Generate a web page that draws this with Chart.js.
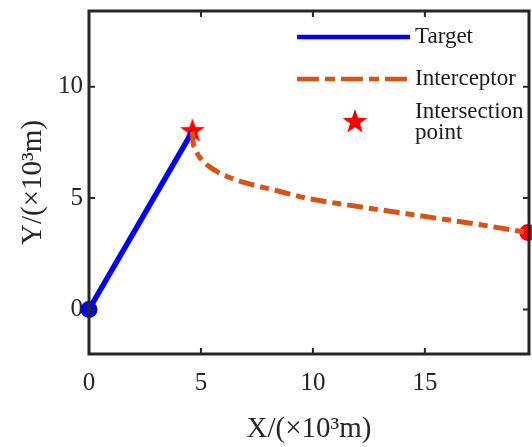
<!DOCTYPE html>
<html>
<head>
<meta charset="utf-8">
<script src="https://cdn.jsdelivr.net/npm/chart.js@4.4.1/dist/chart.umd.min.js"></script>
<style>
  body { margin: 0; background: #fff; }
  canvas { display: block; }
</style>
</head>
<body>
<canvas id="grafico" width="532" height="447"></canvas>
<script>
// dados (x10^3 m)
const targetX = [0, 4.62];
const targetY = [0, 8.0];
const interceptorX = [4.62, 4.64, 4.72, 4.9, 5.2, 5.7, 6.4, 7.3, 8.4, 9.8, 11.5, 13.5, 15.5, 17.5, 19.6];
const interceptorY = [8.0, 7.6, 7.25, 6.9, 6.55, 6.2, 5.88, 5.6, 5.33, 4.98, 4.7, 4.4, 4.1, 3.8, 3.45];
const startPoint = [0, 0];
const endPoint = [19.6, 3.45];
const hitPoint = [4.62, 8.05];
const xTicks = [0, 5, 10, 15];
const yTicks = [0, 5, 10];
const legendLabels = ["Target", "Interceptor", "Intersection", "point"];

const serif = '"Liberation Serif", "Times New Roman", serif';
const azul = "#0000ff";
const laranja = "#d95319";
const vermelho = "#ff0000";

function pares(xs, ys) {
  return xs.map((x, i) => ({ x, y: ys[i] }));
}

function desenharEstrela(ctx, cx, cy, rOut, rIn) {
  ctx.beginPath();
  for (let i = 0; i < 10; i++) {
    const r = i % 2 === 0 ? rOut : rIn;
    const a = -Math.PI / 2 + i * Math.PI / 5;
    const px = cx + r * Math.cos(a);
    const py = cy + r * Math.sin(a);
    if (i === 0) ctx.moveTo(px, py); else ctx.lineTo(px, py);
  }
  ctx.closePath();
  ctx.fill();
}

// estrela cheia (o "star" do Chart.js e um asterisco)
const estrela = document.createElement("canvas");
estrela.width = 28;
estrela.height = 28;
{
  const c = estrela.getContext("2d");
  c.fillStyle = vermelho;
  desenharEstrela(c, 14, 15, 13, 5.2);
}

const moldura = {
  id: "moldura",
  afterDatasetsDraw(chart) {
    const { ctx, chartArea: a, scales } = chart;
    ctx.save();
    ctx.strokeStyle = "#262626";
    ctx.lineWidth = 2;
    const t = 6;
    for (const v of xTicks) {
      const px = scales.x.getPixelForValue(v);
      ctx.beginPath();
      ctx.moveTo(px, a.bottom); ctx.lineTo(px, a.bottom - t);
      ctx.moveTo(px, a.top); ctx.lineTo(px, a.top + t);
      ctx.stroke();
    }
    for (const v of yTicks) {
      const py = scales.y.getPixelForValue(v);
      ctx.beginPath();
      ctx.moveTo(a.left, py); ctx.lineTo(a.left + t, py);
      ctx.moveTo(a.right, py); ctx.lineTo(a.right - t, py);
      ctx.stroke();
    }
    ctx.lineWidth = 3;
    ctx.strokeRect(a.left, a.top, a.right - a.left, a.bottom - a.top);
    ctx.restore();
  },
  afterDraw(chart) {
    const { ctx, chartArea: a } = chart;
    const x0 = a.left + 208, x1 = a.left + 321;
    ctx.save();
    ctx.lineWidth = 4.5;
    ctx.strokeStyle = azul;
    ctx.beginPath(); ctx.moveTo(x0, a.top + 26); ctx.lineTo(x1, a.top + 26); ctx.stroke();
    ctx.strokeStyle = laranja;
    ctx.setLineDash([22, 6, 10, 6]);
    ctx.beginPath(); ctx.moveTo(x0, a.top + 68); ctx.lineTo(x1, a.top + 68); ctx.stroke();
    ctx.setLineDash([]);
    ctx.drawImage(estrela, a.left + 266 - 14, a.top + 111 - 15);
    ctx.fillStyle = "#1a1a1a";
    ctx.font = "23px " + serif;
    ctx.textBaseline = "middle";
    const tx = x1 + 5;
    ctx.fillText(legendLabels[0], tx, a.top + 26);
    ctx.fillText(legendLabels[1], tx, a.top + 68);
    ctx.fillText(legendLabels[2], tx, a.top + 101);
    ctx.fillText(legendLabels[3], tx, a.top + 122);
    ctx.restore();
  }
};

const ctx = document.getElementById("grafico").getContext("2d");

new Chart(ctx, {
  type: "scatter",
  data: {
    datasets: [
      {
        label: "Interceptor",
        data: pares(interceptorX, interceptorY),
        showLine: true,
        borderColor: laranja,
        borderWidth: 5,
        borderDash: [16, 6, 9, 6],
        pointRadius: 0,
        tension: 0.4,
        cubicInterpolationMode: "monotone"
      },
      {
        label: "Target",
        data: pares(targetX, targetY),
        showLine: true,
        borderColor: azul,
        borderWidth: 5.5,
        pointRadius: 0
      },
      {
        label: "start",
        data: [{ x: startPoint[0], y: startPoint[1] }],
        pointRadius: 8.5,
        pointBackgroundColor: azul,
        pointBorderWidth: 0,
        clip: false
      },
      {
        label: "end",
        data: [{ x: endPoint[0], y: endPoint[1] }],
        pointRadius: 8.5,
        pointBackgroundColor: vermelho,
        pointBorderWidth: 0,
        clip: false
      },
      {
        label: "Intersection point",
        data: [{ x: hitPoint[0], y: hitPoint[1] }],
        pointStyle: estrela,
        clip: false
      }
    ]
  },
  options: {
    responsive: false,
    animation: false,
    devicePixelRatio: 1,
    layout: { autoPadding: false, padding: { top: 11, right: 3, left: 0, bottom: 0 } },
    plugins: {
      legend: { display: false },
      tooltip: { enabled: false }
    },
    scales: {
      x: {
        type: "linear",
        min: 0,
        max: 19.65,
        grid: { display: false, drawTicks: false },
        border: { display: false },
        afterBuildTicks(scale) { scale.ticks = xTicks.map(v => ({ value: v })); },
        afterFit(scale) {
          scale.height = 93;
          scale.paddingLeft = 0;
          scale.paddingRight = 0;
        },
        ticks: {
          autoSkip: false,
          maxRotation: 0,
          padding: 14,
          color: "#262626",
          font: { family: serif, size: 25 }
        },
        title: {
          display: true,
          text: "X/(×10³m)",
          color: "#262626",
          font: { family: serif, size: 29 },
          padding: { top: 0, bottom: 0 }
        }
      },
      y: {
        type: "linear",
        min: -2,
        max: 13.4,
        grid: { display: false, drawTicks: false },
        border: { display: false },
        afterBuildTicks(scale) { scale.ticks = yTicks.map(v => ({ value: v })); },
        afterFit(scale) {
          scale.width = 89;
          scale.paddingTop = 0;
          scale.paddingBottom = 0;
        },
        ticks: {
          autoSkip: false,
          padding: 6,
          color: "#262626",
          font: { family: serif, size: 25 }
        },
        title: {
          display: true,
          text: "Y/(×10³m)",
          color: "#262626",
          font: { family: serif, size: 29 },
          padding: { top: 16, bottom: 0 }
        }
      }
    }
  },
  plugins: [moldura]
});
</script>
</body>
</html>
